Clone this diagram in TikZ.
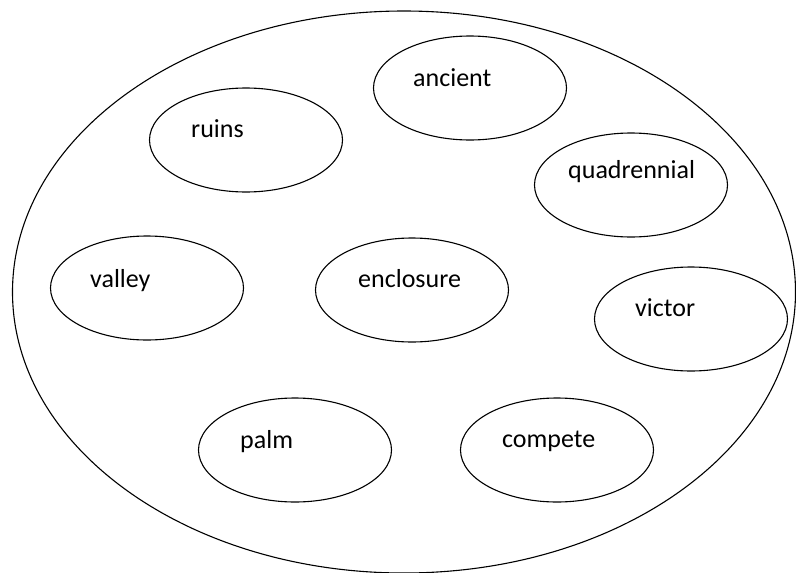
\documentclass[tikz,border=0pt]{standalone}
\usepackage{fontspec}
\setmainfont{Carlito}
\usetikzlibrary{shapes.geometric,positioning}

\tikzset{
  blob/.style={draw, ellipse, line width=1.1pt, minimum width=193pt, minimum height=104pt, inner sep=0pt},
  word/.style={draw=none, anchor=base west, inner sep=0pt, font=\fontsize{26}{30}\selectfont},
}

\begin{document}
\begin{tikzpicture}[x=1pt,y=-1pt]
             \useasboundingbox (0,0) rectangle (796,573);

             % the big field round everything
             \node[draw, ellipse, line width=1.1pt, minimum width=783pt, minimum height=562pt, inner sep=0pt] (field) at (404,292) {};

             \node[blob] (ancient) at (470,88) {};
             \node[word] (ancientw) at (413,86) {ancient};

             \node[blob] (ruins) at (246,140) {};
             \node[word] (ruinsw) at (191,137) {ruins};

             \node[blob] (quad) at (631,185) {};
             \node[word] (quadw) at (568,178) {quadrennial};

             \node[blob] (valley) at (147,288) {};
             \node[word] (valleyw) at (90,287) {valley};

             \node[blob] (encl) at (412,290) {};
             \node[word] (enclw) at (358,287) {enclosure};

             \node[blob] (victor) at (691,319) {};
             \node[word] (victorw) at (635,316) {victor};

             \node[blob] (palm) at (295,450) {};
             \node[word] (palmw) at (240,448) {palm};

             \node[blob] (compete) at (557,450) {};
             \node[word] (competew) at (502,447) {compete};
\end{tikzpicture}
\end{document}
